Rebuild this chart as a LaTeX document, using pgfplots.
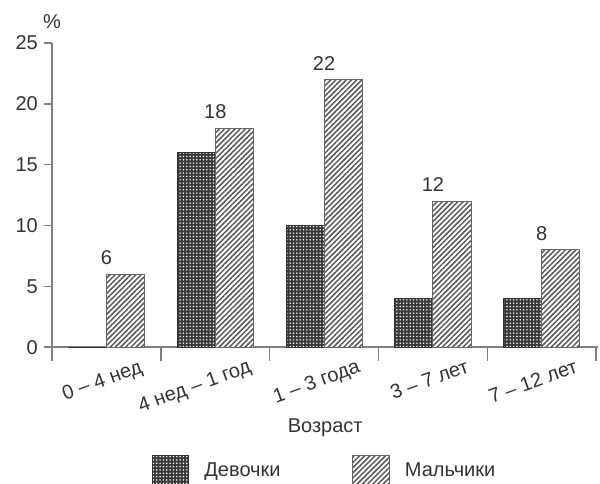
\documentclass[border=0pt]{standalone}
\usepackage{pgfplots}
\pgfplotsset{compat=1.18}
\usepackage{fontspec}
\setmainfont{Liberation Sans}
\usetikzlibrary{patterns.meta,calc}
\definecolor{txt}{HTML}{333333}
\definecolor{axc}{HTML}{808080}
\pgfplotsset{
  mybox legend/.style={legend image code/.code={\draw[##1] (0pt,-9pt) rectangle (22pt,9pt);}},
}
\begin{document}
\begin{tikzpicture}[font=\fontsize{12}{14}\selectfont]
\begin{axis}[
  /pgf/number format/assume math mode=true,
  scale only axis, width=327.6pt, height=182.4pt,
  xmin=-0.5, xmax=4.52, ymin=0, ymax=25,
  axis x line*=bottom, axis y line*=left,
  axis line style={axc, line width=0.9pt},
  every tick/.style={axc, line width=0.9pt},
  tick align=outside,
  xtick={0,1,2,3,4},
  xticklabels={0 – 4 нед, 4 нед – 1 год, 1 – 3 года, 3 – 7 лет, 7 – 12 лет},
  major x tick style={draw=none},
  minor xtick={-0.5,0.5,1.5,2.5,3.5,4.5},
  minor tick length=8pt,
  major tick length=5pt,
  ytick={0,5,10,15,20,25},
  xticklabel style={rotate=20, anchor=north east, xshift=21pt, yshift=-5pt, text=txt},
  yticklabel style={text=txt},
  xlabel={Возраст},
  xlabel style={at={(axis description cs:0.5,0)}, anchor=center, yshift=-48pt, text=txt},
  legend columns=2,
  legend style={at={(axis description cs:0.5,0)}, anchor=center, yshift=-74pt, xshift=0pt,
    draw=none, text=txt, cells={anchor=west},
    /tikz/every odd column/.style={column sep=7pt},
    /tikz/every even column/.style={column sep=41pt}},
  clip=false,
]
\addplot[ybar, bar width=0.35, bar shift=-0.175, draw=black!80, line width=0.6pt, fill=black!78,
  postaction={pattern={Dots[radius=0.5pt,distance=2pt]}, pattern color=white}, mybox legend]
  coordinates {(0,0) (1,16) (2,10) (3,4) (4,4)};
\addlegendentry{Девочки}
\addplot[ybar, bar width=0.35, bar shift=0.175, draw=black!60, line width=0.6pt, fill=white,
  postaction={pattern={Lines[angle=45,distance=2.2pt,line width=0.9pt]}, pattern color=black!65}, mybox legend,
  nodes near coords, nodes near coords style={text=txt, anchor=south, yshift=2pt}]
  coordinates {(0,6) (1,18) (2,22) (3,12) (4,8)};
\addlegendentry{Мальчики}
\node[anchor=south, text=txt, yshift=5pt] at (rel axis cs:0,1) {\%};
\coordinate (TR) at (rel axis cs:1,1);
\coordinate (BL) at (rel axis cs:0,0);
\end{axis}
\pgfresetboundingbox
\path[use as bounding box] ($(BL)+(-31.2pt,-81.6pt)$) rectangle ($(TR)+(1pt,25.8pt)$);
\end{tikzpicture}
\end{document}
